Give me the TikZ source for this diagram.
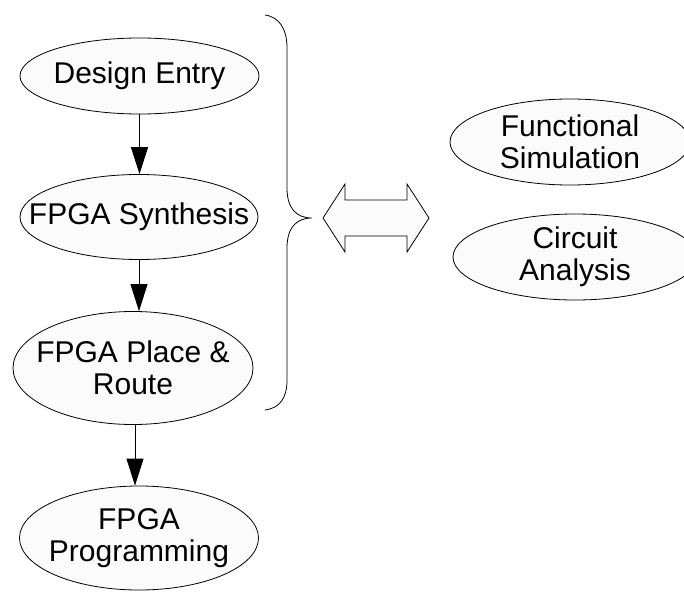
\documentclass[tikz,border=0pt]{standalone}
\usepackage{fontspec}
\setmainfont{Liberation Sans}
\usetikzlibrary{shapes.geometric,arrows.meta}
\definecolor{bubble}{HTML}{FBFBFB}
\tikzset{
  stage/.style={ellipse, draw=black, line width=0.8pt, fill=bubble, inner sep=0pt},
  caption/.style={align=center, inner sep=0pt, font=\fontsize{30}{32}\selectfont},
  flow/.style={draw=black, line width=0.9pt, -{Triangle[length=27pt,width=17pt]}},
  outline/.style={draw=black, line width=0.8pt}
}
\begin{document}
\begin{tikzpicture}[x=1pt,y=-1pt]
  \useasboundingbox (0,0) rectangle (684,591);
  \clip (0,0) rectangle (684,591);

  % design flow stages (fixed-size ellipses, text set as centred labels)
  \node[stage, minimum width=239pt, minimum height=76pt,
        label={[caption]center:Design Entry}] (de) at (139.5,76) {};
  \node[stage, minimum width=238pt, minimum height=85pt,
        label={[caption]center:FPGA Synthesis}] (syn) at (139,217) {};
  \node[stage, minimum width=240pt, minimum height=113pt,
        label={[caption]center:FPGA Place \&\\Route}] (pr) at (133,368) {};
  \node[stage, minimum width=239pt, minimum height=104pt,
        label={[caption]center:FPGA\\Programming}] (prog) at (139,538) {};

  % verification tasks
  \node[stage, minimum width=240pt, minimum height=86pt,
        label={[caption]center:Functional\\Simulation}] (fs) at (570,142) {};
  \node[stage, minimum width=244pt, minimum height=86pt,
        label={[caption]center:Circuit\\Analysis}] (ca) at (575,257) {};

  % connectors
  \draw[flow] (de.south) -- (de.south |- syn.north);
  \draw[flow] (syn.south) -- (syn.south |- pr.north);
  \coordinate (prb) at (135,425);
  \draw[flow] (prb) -- (prb |- prog.north);

  % brace grouping the first three stages
  \coordinate (btop) at (265,15);
  \coordinate (btip) at (312,218);
  \coordinate (bbot) at (265,410);
  \draw[outline] (btop) .. controls (280,17) and (287,30) .. (287,48)
    -- (287,188) .. controls (287,208) and (296,218) .. (btip)
    .. controls (296,218) and (287,228) .. (287,248)
    -- (287,380) .. controls (287,398) and (280,408) .. (bbot);

  % two-way exchange arrow
  \draw[outline, fill=bubble] (323,218) -- (345,184) -- (345,200) -- (407,200) -- (407,184)
    -- (429,218) -- (407,252) -- (407,236) -- (345,236) -- (345,252) -- cycle;
\end{tikzpicture}
\end{document}
